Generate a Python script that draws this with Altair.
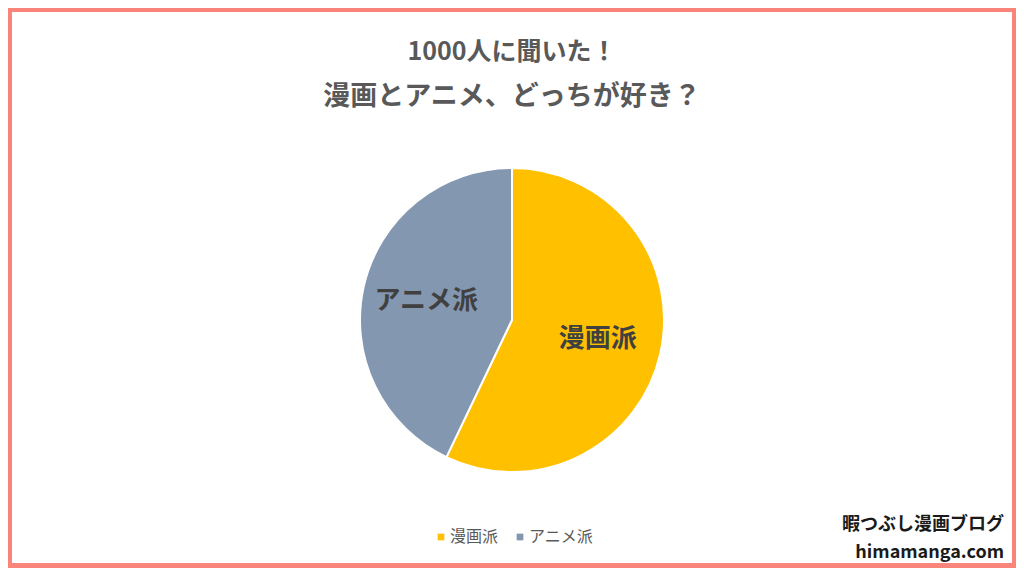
import altair as alt
import pandas as pd

categories = ["漫画派", "アニメ派"]
values = [57.1, 42.9]
colors = ["#FFC000", "#8497B0"]
title_lines = ["1000人に聞いた！", "漫画とアニメ、どっちが好き？"]
brand_lines = ["暇つぶし漫画ブログ", "himamanga.com"]

FONT = "Noto Sans CJK JP"
W, H = 1008, 560
CX, CY = 504, 312

pie_df = pd.DataFrame({"category": categories, "value": values, "order": list(range(len(categories)))})
one = pd.DataFrame({"k": [0]})

frame = alt.Chart(one).mark_rect(color="white").encode(
    x=alt.value(4), x2=alt.value(1004), y=alt.value(4), y2=alt.value(555)
)

base = alt.Chart(pie_df).encode(
    theta=alt.Theta("value:Q", stack=True),
    order=alt.Order("order:Q"),
    x=alt.value(CX), y=alt.value(CY),
)

pie = base.mark_arc(outerRadius=152, stroke="white", strokeWidth=2).encode(
    color=alt.Color(
        "category:N",
        scale=alt.Scale(domain=categories, range=colors),
        sort=categories,
        legend=alt.Legend(
            title=None, orient="none", direction="horizontal",
            legendX=425, legendY=521,
            symbolType="square", symbolSize=45, symbolStrokeWidth=0,
            labelFontSize=16, labelColor="#595959", labelFont=FONT,
            columnPadding=13, labelOffset=1,
        ),
    )
)

labels = base.mark_text(radius=88, font=FONT, fontSize=26, fontWeight="bold", color="#404040").encode(
    text="category:N"
)

t1 = alt.Chart(pd.DataFrame({"t": [title_lines[0]]})).mark_text(
    font=FONT, fontSize=25, fontWeight="bold", color="#595959", align="center", baseline="middle"
).encode(text="t:N", x=alt.value(504), y=alt.value(44))
t2 = alt.Chart(pd.DataFrame({"t": [title_lines[1]]})).mark_text(
    font=FONT, fontSize=27, fontWeight="bold", color="#595959", align="center", baseline="middle"
).encode(text="t:N", x=alt.value(504), y=alt.value(89))

b1 = alt.Chart(pd.DataFrame({"t": [brand_lines[0]]})).mark_text(
    font=FONT, fontSize=18, fontWeight="bold", color="#1a1a1a", align="right", baseline="middle"
).encode(text="t:N", x=alt.value(996), y=alt.value(517))
b2 = alt.Chart(pd.DataFrame({"t": [brand_lines[1]]})).mark_text(
    font=FONT, fontSize=18, fontWeight="bold", color="#1a1a1a", align="right", baseline="middle"
).encode(text="t:N", x=alt.value(996), y=alt.value(545))

chart = alt.layer(frame, pie, labels, t1, t2, b1, b2).properties(
    width=W, height=H, padding=0, background="#F8847A", autosize="none"
).configure_view(strokeWidth=0)

chart.save("out.html", embed_options={"renderer": "svg", "actions": False})
